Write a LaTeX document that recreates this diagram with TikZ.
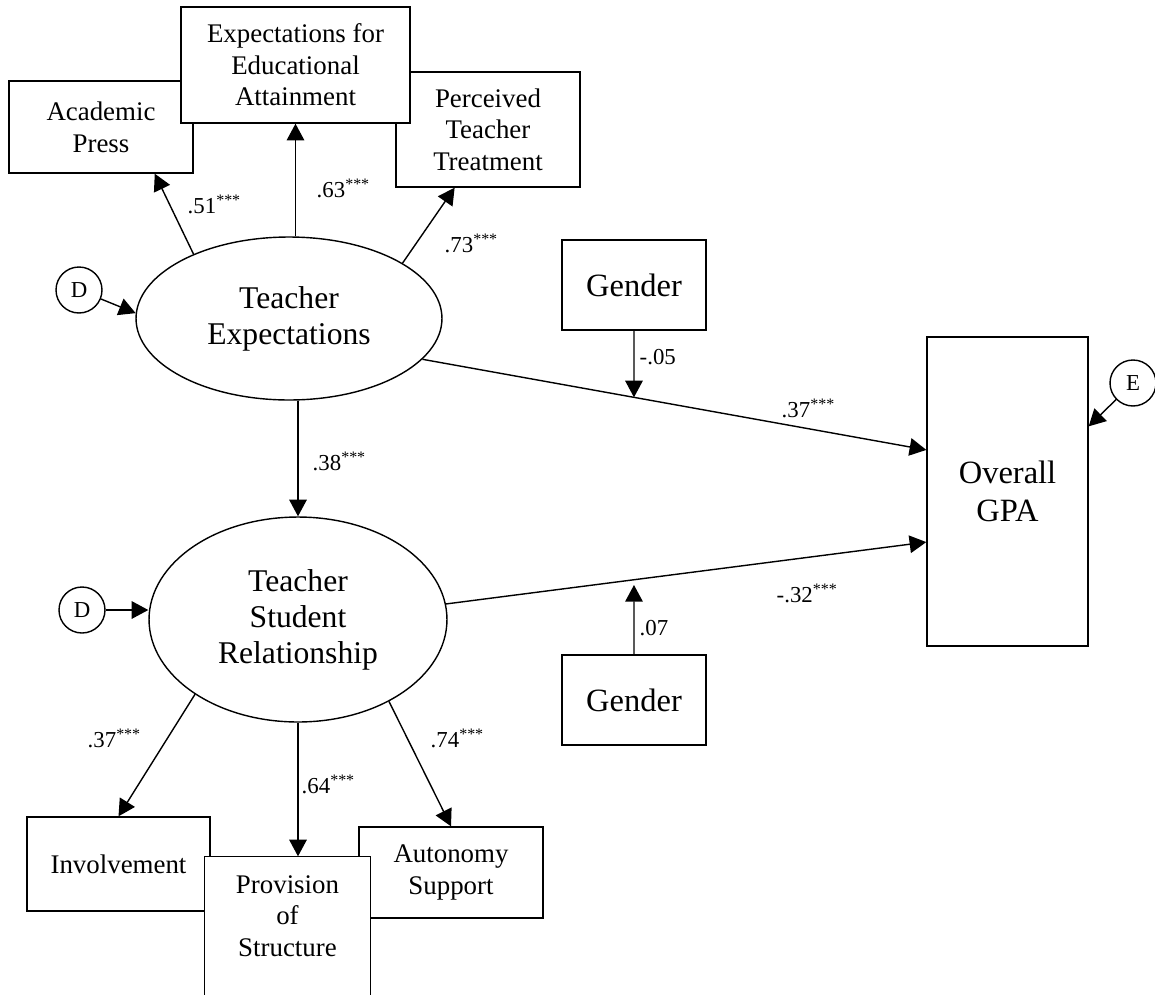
\documentclass[tikz,border=0pt]{standalone}
\usepackage{fontspec}
\setmainfont{Liberation Serif}
\usetikzlibrary{calc, positioning, arrows.meta, shapes.geometric}

\begin{document}
\begin{tikzpicture}[
  x=0.02cm, y=-0.02cm,
  line width=0.8pt,
  arrow/.style={-{Triangle[length=9.5pt, width=10pt]}, line width=0.8pt},
  obs/.style={draw, fill=white, inner sep=0pt, align=center,
              font=\fontsize{15.3}{18}\selectfont},
  latent/.style={ellipse, draw, fill=white, inner sep=0pt, align=center,
                 font=\fontsize{18}{20.5}\selectfont},
  outcome/.style={draw, fill=white, inner sep=0pt, align=center,
                  font=\fontsize{18.5}{21.7}\selectfont},
  resid/.style={circle, draw, inner sep=0pt, minimum size=0.92cm,
                font=\fontsize{13}{15}\selectfont},
  coef/.style={anchor=base west, inner sep=0pt,
               font=\fontsize{13}{15}\selectfont}
]
\useasboundingbox (0,0) rectangle (1155,994);

% --- Indicators of teacher expectations ---
\node[obs, minimum width=3.68cm, minimum height=1.84cm] (acad) at (101,127) {Academic\\Press};
\node[obs, minimum width=3.68cm, minimum height=2.30cm] (perc) at (488,129.5) {Perceived\\Teacher\\Treatment};
\node[obs, minimum width=4.58cm, minimum height=2.32cm] (expect) at (295.5,65) {Expectations for\\Educational\\Attainment};

% --- Latent factors ---
\node[latent, minimum width=6.12cm, minimum height=3.26cm] (te) at (289,318.5) {Teacher\\Expectations};
\node[latent, minimum width=5.96cm, minimum height=4.10cm] (tsr) at (298,619.5) {Teacher\\Student\\Relationship};

\node[resid] (d1) at (79,290) {D};
\draw[arrow] (d1) -- (te.178);
\node[resid] (d2) at (82,610) {D};
\draw[arrow] (d2) -- (d2 -| tsr.west);

\draw[arrow] (te.146) -- ($(acad.south west)!0.79!(acad.south east)$);
\node[coef] (c51) at (187,213) {.51\textsuperscript{***}};
\draw[arrow] (expect.south |- te.north) -- (expect.south);
\node[coef] (c63) at (316,197) {.63\textsuperscript{***}};
\draw[arrow] (te.26) -- ($(perc.south west)!0.32!(perc.south east)$);
\node[coef] (c73) at (444,252) {.73\textsuperscript{***}};

\draw[arrow] (tsr.north |- te.south) -- (tsr.north);
\node[coef] (c38) at (312,470) {.38\textsuperscript{***}};

% --- Paths to GPA ---
\node[outcome, minimum width=3.22cm, minimum height=6.18cm] (gpa) at (1007.5,491.5) {Overall\\GPA};
\node[resid] (e) at (1133,383) {E};
\draw[arrow] (e) -- ($(gpa.north east)!0.29!(gpa.south east)$);

\coordinate (teOut) at (te.-17);
\coordinate (gpaA) at ($(gpa.north west)!0.366!(gpa.south west)$);
\draw[arrow] (teOut) -- (gpaA);
\node[coef] (c37a) at (781,417) {.37\textsuperscript{***}};
\coordinate (tsrOut) at (tsr.6);
\coordinate (gpaB) at ($(gpa.north west)!0.663!(gpa.south west)$);
\draw[arrow] (tsrOut) -- (gpaB);
\node[coef] (c32) at (776,602) {-.32\textsuperscript{***}};

% --- Gender moderators ---
\node[outcome, minimum width=2.88cm, minimum height=1.80cm] (gender1) at (634,285) {Gender};
\draw[arrow] (gender1) -- (intersection of teOut--gpaA and gender1.south--gender1.center);
\node[coef] (c05) at (639,364) {-.05};
\node[outcome, minimum width=2.88cm, minimum height=1.80cm] (gender2) at (634,700) {Gender};
\draw[arrow, shorten >=3pt] (gender2) -- (intersection of tsrOut--gpaB and gender2.north--gender2.center);
\node[coef] (c07) at (639,635) {.07};

% --- Indicators of teacher student relationship ---
\node[obs, minimum width=3.66cm, minimum height=1.88cm] (invol) at (118.5,864) {Involvement};
\node[obs, minimum width=3.68cm, minimum height=1.82cm] (auton) at (451,872.5) {Autonomy\\Support};
\node[obs, draw=none, minimum width=3.30cm, minimum height=2.36cm] (prov) at (287.5,916) {Provision\\of\\Structure};
\draw ([yshift=-1cm]prov.south west) -- (prov.north west) -- (prov.north east) -- ([yshift=-1cm]prov.south east);

\draw[arrow] (tsr.-144) -- (invol.north);
\node[coef] (c37b) at (87,747) {.37\textsuperscript{***}};
\draw[arrow] (tsr.south) -- (tsr.south |- prov.north);
\node[coef] (c64) at (301,793) {.64\textsuperscript{***}};
\draw[arrow] (tsr.-42) -- (auton.north);
\node[coef] (c74) at (430,747) {.74\textsuperscript{***}};

\end{tikzpicture}
\end{document}
